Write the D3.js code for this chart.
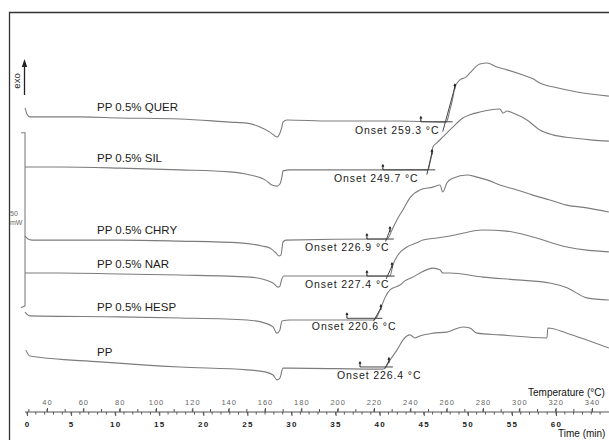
<!DOCTYPE html>
<html><head><meta charset="utf-8">
<script src="https://cdn.jsdelivr.net/npm/d3@7"></script>
<style>
body{margin:0;background:#fff}
svg{display:block;font-family:"Liberation Sans",Arial,sans-serif}
</style>
</head><body>
<svg id="c" width="609" height="440"></svg>
<script>
// ---------- DATA (temperature °C, heat flow mW incl. stacking offset) ----------
const sampleNames = ["PP 0.5% QUER", "PP 0.5% SIL", "PP 0.5% CHRY", "PP 0.5% NAR", "PP 0.5% HESP", "PP"];

const querCurve = [[27.9,90.2],[29.0,88.4],[30.6,87.6],[58.2,87.6],[80.2,87.3],[113.2,87.0],[140.7,86.1],[150.1,85.8],[157.2,84.7],[162.7,83.2],[165.5,82.1],[166.6,81.8],[168.2,82.9],[169.3,84.7],[169.9,86.1],[172.1,86.7],[195.7,86.4],[234.3,86.4],[259.0,86.1],[260.1,86.4],[261.8,89.6],[263.5,93.4],[264.5,96.2],[267.3,98.3],[270.6,99.1],[272.8,100.3],[278.3,102.9],[282.2,103.2],[287.7,102.0],[293.2,101.2],[302.0,99.7],[307.5,98.6],[311.3,97.4],[320.7,96.0],[331.7,94.8],[349.3,93.6]];

const silCurve = [[27.9,73.1],[47.2,73.1],[80.2,72.8],[113.2,72.3],[140.7,71.7],[151.8,70.8],[160.0,69.4],[163.8,67.9],[166.6,67.6],[168.2,68.2],[169.3,70.2],[169.9,72.0],[173.7,72.3],[234.3,72.3],[249.7,72.3],[250.8,74.3],[251.9,77.2],[252.4,78.9],[254.6,80.1],[257.9,81.8],[263.5,84.7],[268.9,87.3],[272.8,88.2],[278.3,89.0],[283.8,89.6],[289.3,89.9],[291.0,88.7],[293.2,89.3],[296.5,88.7],[304.2,86.7],[311.3,83.8],[318.5,82.4],[329.5,81.5],[340.5,80.9],[349.3,80.6]];

const chryCurve = [[27.9,53.2],[29.5,52.3],[31.7,52.0],[80.2,52.0],[113.2,51.7],[146.2,51.2],[158.3,50.3],[162.7,49.7],[166.0,48.3],[167.7,47.4],[168.8,47.7],[169.9,51.4],[171.5,52.0],[224.9,52.3],[227.1,52.3],[230.4,55.5],[233.2,58.4],[235.9,60.7],[239.8,64.2],[245.3,66.5],[252.4,67.3],[256.3,67.9],[257.9,65.9],[260.1,68.5],[263.5,69.9],[271.2,70.8],[276.7,70.2],[282.2,69.4],[289.3,67.9],[298.7,66.5],[307.5,65.0],[316.8,63.6],[326.2,62.1],[337.2,61.3],[349.3,60.1]];

const narCurve = [[27.9,42.5],[47.2,42.5],[80.2,42.2],[113.2,41.9],[151.8,41.3],[164.4,39.6],[167.1,38.4],[168.2,38.7],[169.3,40.8],[170.4,41.6],[224.9,41.6],[228.8,41.6],[230.4,44.8],[233.2,47.7],[238.1,50.0],[243.6,51.2],[246.9,52.0],[254.6,52.6],[261.8,53.2],[280.0,54.9],[293.2,54.6],[307.5,52.9],[326.2,50.0],[337.2,49.1],[349.3,48.6]];

const hespCurve = [[27.9,31.2],[30.6,30.1],[80.2,29.8],[113.2,29.5],[150.1,28.9],[160.0,28.0],[164.4,26.9],[166.6,25.1],[168.2,26.0],[169.3,28.6],[173.7,28.9],[217.8,28.9],[219.4,28.9],[221.6,29.8],[223.8,32.4],[226.0,35.3],[228.8,37.6],[234.3,39.0],[237.0,40.2],[241.4,41.3],[245.3,42.5],[252.4,43.9],[256.3,43.4],[257.9,42.5],[261.8,42.5],[280.0,41.3],[298.7,40.5],[316.8,39.6],[326.2,38.2],[337.2,35.3],[349.3,34.7]];

const ppCurve = [[28.4,20.2],[30.6,18.5],[69.2,16.8],[113.2,15.3],[150.1,14.5],[160.0,13.9],[164.4,13.0],[166.6,11.6],[168.2,12.1],[169.9,15.0],[173.7,15.0],[224.9,14.7],[226.0,15.0],[228.8,17.3],[232.6,20.2],[235.9,23.1],[238.1,24.3],[239.8,24.6],[242.5,23.7],[245.3,24.3],[252.4,25.1],[260.1,25.4],[268.9,26.9],[272.8,26.6],[276.7,25.1],[289.3,24.6],[315.2,23.7],[315.7,26.6],[326.2,25.1],[337.2,23.1],[349.3,20.8]];

const curves = [querCurve, silCurve, chryCurve, narCurve, hespCurve, ppCurve];

// onset evaluation (°C)
const onsetTemps   = [259.3, 249.7, 226.9, 227.4, 220.6, 226.4];
const baselineFrom = [245.8, 224.9, 216.1, 216.1, 205.1, 212.3];
const tangentPoint = [[264.5,96.2],[251.9,77.2],[228.8,54.9],[229.9,44.5],[223.8,32.4],[228.2,17.1]];
const labelStartT  = [209.5, 198.0, 182.0, 182.0, 185.8, 199.6];

const tempTicks = [40,60,80,100,120,140,160,180,200,220,240,260,280,300,320,340];
const timeTicks = [0,5,10,15,20,25,30,35,40,45,50,55,60];
const scaleBar = {from: 33, size: 50, unit: "mW"};

// ---------- CHART ----------
const svg = d3.select("#c");
const W = 609, H = 440;
const tempScale = d3.scaleLinear().domain([40, 340]).range([47, 592]);
const timeScale = d3.scaleLinear().domain([0, 60]).range([27, 556]);
const yScale = d3.scaleLinear().domain([0, 100]).range([420, 74]);

const curveColor = "#7c7c7c";

// frame
svg.append("path").attr("d", `M9.5,${H} V12.5 H${W}`).attr("fill","none").attr("stroke","#333").attr("stroke-width",1.3);

// exo arrow
svg.append("line").attr("x1",24.5).attr("x2",24.5).attr("y1",95).attr("y2",66).attr("stroke","#222").attr("stroke-width",1.3);
svg.append("path").attr("d","M24.5,59 L21.8,67 L27.2,67 Z").attr("fill","#222");
svg.append("text").attr("transform","translate(20,81) rotate(-90)").attr("text-anchor","middle")
  .attr("font-size",9.5).attr("fill","#222").text("exo");

// scale bar
const sbTop = yScale(scaleBar.from + scaleBar.size), sbBot = yScale(scaleBar.from);
svg.append("path").attr("d",`M21,${sbTop} H25 V${sbBot} L21,${sbBot+2}`).attr("fill","none").attr("stroke","#808080").attr("stroke-width",1.1);
svg.append("text").attr("x",10).attr("y",216).attr("font-size",7).attr("fill","#666").text(String(scaleBar.size));
svg.append("text").attr("x",10).attr("y",225).attr("font-size",7).attr("fill","#666").text(scaleBar.unit);

// curves
const line = d3.line().x(d => tempScale(d[0])).y(d => yScale(d[1])).curve(d3.curveMonotoneX);
svg.append("g").selectAll("path").data(curves).join("path")
  .attr("d", line).attr("fill","none").attr("stroke",curveColor).attr("stroke-width",1.1);

function valueAt(series, t){
  const i = d3.bisector(d => d[0]).left(series, t);
  const a = series[Math.max(0,i-1)], b = series[Math.min(series.length-1,i)];
  if (a === b) return a[1];
  return a[1] + (b[1]-a[1])*(t-a[0])/(b[0]-a[0]);
}

// sample names
svg.append("g").selectAll("text").data(sampleNames).join("text")
  .attr("x", 97)
  .attr("y", (d,i) => yScale(valueAt(curves[i], 67)) - 6)
  .attr("font-size", 11.5).attr("fill","#1a1a1a").text(d => d);

// onset annotations
const ann = svg.append("g");
onsetTemps.forEach((ot, i) => {
  const bv = valueAt(curves[i], ot);
  const x0 = tempScale(ot), y0 = yScale(bv);
  const x1 = tempScale(tangentPoint[i][0]), y1 = yScale(tangentPoint[i][1]);
  ann.append("line").attr("x1", tempScale(baselineFrom[i])).attr("x2", tempScale(ot + 4))
    .attr("y1", y0).attr("y2", y0).attr("stroke","#444").attr("stroke-width",1);
  const dx = x1 - x0, dy = y1 - y0;
  ann.append("line").attr("x1", x0 - dx*0.28).attr("y1", y0 - dy*0.28)
    .attr("x2", x1 + dx*0.08).attr("y2", y1 + dy*0.08)
    .attr("stroke","#444").attr("stroke-width",1);
  const fx = tempScale(baselineFrom[i]);
  ann.append("line").attr("x1",fx).attr("x2",fx).attr("y1",y0).attr("y2",y0-5).attr("stroke","#222").attr("stroke-width",1);
  ann.append("path").attr("d",`M${fx},${y0-6} l-1.5,2.8 h3 Z`).attr("fill","#222");
  ann.append("line").attr("x1",x1).attr("x2",x1).attr("y1",y1+2).attr("y2",y1-3).attr("stroke","#222").attr("stroke-width",1);
  ann.append("path").attr("d",`M${x1},${y1-4} l-1.5,2.8 h3 Z`).attr("fill","#222");
  ann.append("text").attr("x", tempScale(labelStartT[i])).attr("y", y0 + 12)
    .attr("font-size", 10.5).attr("letter-spacing", 0.9).attr("fill","#1a1a1a")
    .text(`Onset ${ot.toFixed(1)} °C`);
});

// axes
const axisY = 412;
const ag = svg.append("g").attr("transform", `translate(0,${axisY})`);
ag.append("line").attr("x1",25).attr("x2",W).attr("y1",0).attr("y2",0).attr("stroke","#555").attr("stroke-width",1);
ag.append("g").selectAll("line").data(d3.range(30, 350, 10)).join("line")
  .attr("x1", d => tempScale(d)).attr("x2", d => tempScale(d)).attr("y1",0).attr("y2",-3).attr("stroke","#555");
ag.append("g").selectAll("line").data(d3.range(0, 66, 1)).join("line")
  .attr("x1", d => timeScale(d)).attr("x2", d => timeScale(d)).attr("y1",0).attr("y2",2.5).attr("stroke","#555");

const tAx = ag.append("g").call(d3.axisTop(tempScale).tickValues(tempTicks).tickSize(4).tickPadding(3));
tAx.select(".domain").remove();
tAx.selectAll("line").attr("stroke","#555");
tAx.selectAll("text").attr("font-size",7.5).attr("letter-spacing",1).attr("fill","#666").attr("font-family","Liberation Sans, Arial, sans-serif");

const mAx = ag.append("g").call(d3.axisBottom(timeScale).tickValues(timeTicks).tickSize(4).tickPadding(5));
mAx.select(".domain").remove();
mAx.selectAll("line").attr("stroke","#555");
mAx.selectAll("text").attr("font-size",8).attr("font-weight","bold").attr("letter-spacing",1.3).attr("fill","#222").attr("font-family","Liberation Sans, Arial, sans-serif");

svg.append("text").attr("x",528).attr("y",396).attr("font-size",10).attr("fill","#111").text("Temperature (°C)");
svg.append("text").attr("x",558).attr("y",437).attr("font-size",10).attr("fill","#111").text("Time (min)");
</script>
</body></html>
